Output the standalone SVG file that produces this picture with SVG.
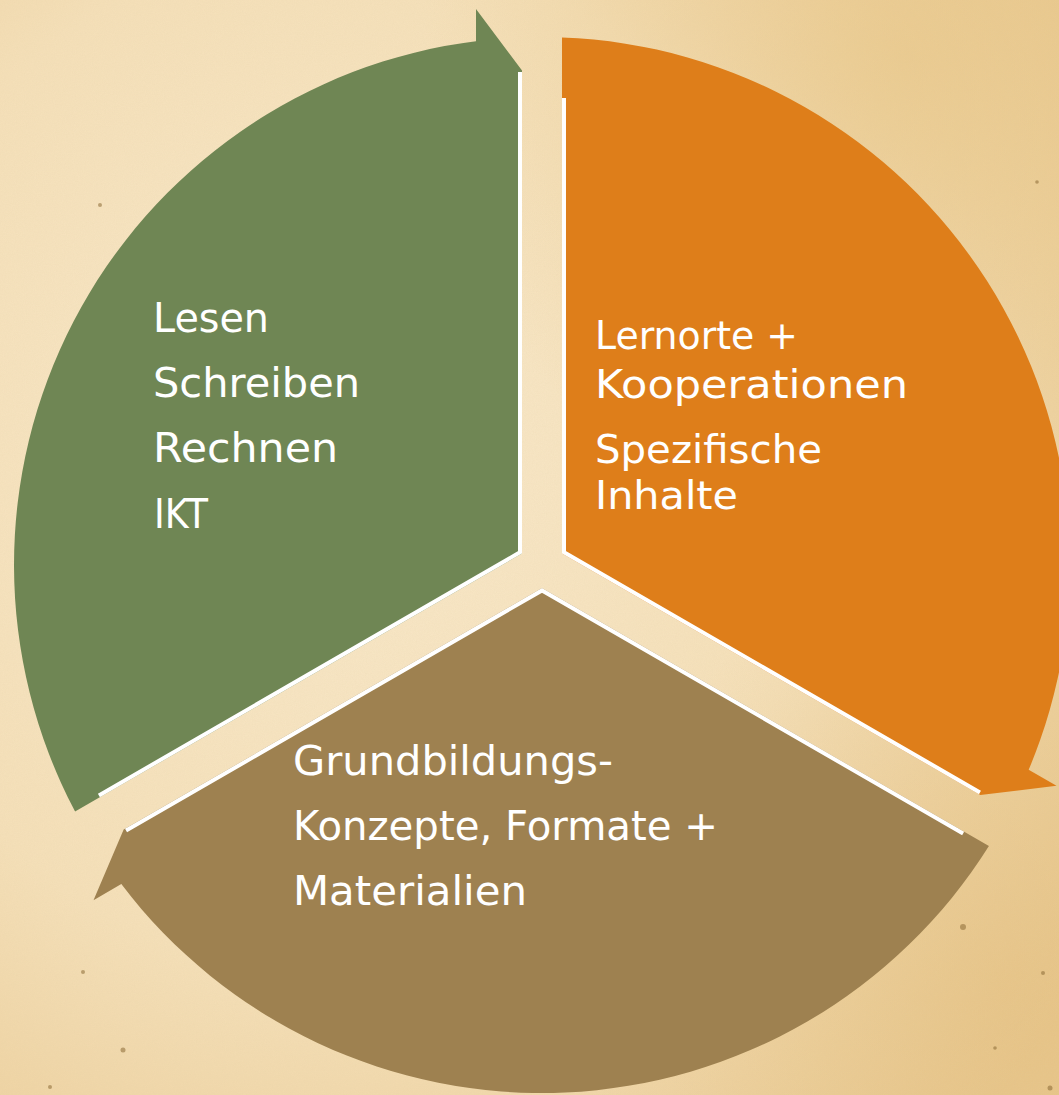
<svg xmlns="http://www.w3.org/2000/svg" width="1059" height="1095" viewBox="0 0 1059 1095">
  <defs>
    <radialGradient id="paper" cx="0.32" cy="0.42" r="0.85">
      <stop offset="0" stop-color="#F8E8CA"/>
      <stop offset="0.55" stop-color="#F4DFB8"/>
      <stop offset="1" stop-color="#E9C991"/>
    </radialGradient>
    <radialGradient id="tanTR" cx="0.85" cy="0.05" r="0.45">
      <stop offset="0" stop-color="#E6C27F" stop-opacity="0.55"/>
      <stop offset="1" stop-color="#E6C27F" stop-opacity="0"/>
    </radialGradient>
    <radialGradient id="tanBR" cx="0.95" cy="0.9" r="0.4">
      <stop offset="0" stop-color="#E2BC7A" stop-opacity="0.5"/>
      <stop offset="1" stop-color="#E2BC7A" stop-opacity="0"/>
    </radialGradient>
    <filter id="grain" x="0" y="0" width="100%" height="100%">
      <feTurbulence type="fractalNoise" baseFrequency="0.9" numOctaves="2" seed="4" result="n"/>
      <feColorMatrix in="n" type="matrix" values="0 0 0 0 0.75  0 0 0 0 0.6  0 0 0 0 0.35  0 0 0 0.35 -0.08"/>
    </filter>
    <path id="seg" d="M522,553.45 L75.08,811.49 A528,528 0 0 1 476,41.14 L476,9 L522,70.4 Z"/>
  </defs>
  <style>
    .edge { fill: none; stroke: #FFFFFF; stroke-width: 4; stroke-linejoin: miter; stroke-linecap: butt; }
    .label { font-family: "DejaVu Sans", "Liberation Sans", sans-serif; font-size: 41px; fill: #FFFFFF; }
    .small { font-size: 39px; }
    .speck { fill: #8A6A35; opacity: 0.55; }
  </style>

  <g id="background">
    <rect x="0" y="0" width="1059" height="1095" fill="url(#paper)"/>
    <rect x="0" y="0" width="1059" height="1095" fill="url(#tanTR)"/>
    <rect x="0" y="0" width="1059" height="1095" fill="url(#tanBR)"/>
    <rect x="0" y="0" width="1059" height="1095" filter="url(#grain)" opacity="0.6"/>
    <circle class="speck" cx="100" cy="205" r="2"/>
    <circle class="speck" cx="83" cy="972" r="2"/>
    <circle class="speck" cx="123" cy="1050" r="2.5"/>
    <circle class="speck" cx="50" cy="1087" r="2"/>
    <circle class="speck" cx="963" cy="927" r="3"/>
    <circle class="speck" cx="1043" cy="973" r="2"/>
    <circle class="speck" cx="1050" cy="1088" r="2.5"/>
    <circle class="speck" cx="995" cy="1048" r="1.8"/>
    <circle class="speck" cx="1037" cy="182" r="1.8"/>
  </g>

  <g id="node-grundbildung-basis">
    <use href="#seg" fill="#6F8654"/>
    <polyline class="edge" points="520,72 520,552.3 98.9,795.45"/>
    <text class="label" x="153" y="332" textLength="116" lengthAdjust="spacingAndGlyphs">Lesen</text>
    <text class="label" x="153" y="397" textLength="207" lengthAdjust="spacingAndGlyphs">Schreiben</text>
    <text class="label" x="153" y="462" textLength="185" lengthAdjust="spacingAndGlyphs">Rechnen</text>
    <text class="label" x="154" y="528" textLength="54" lengthAdjust="spacingAndGlyphs">IKT</text>
  </g>

  <g id="node-lernorte">
    <use href="#seg" fill="#DE7E1A" transform="rotate(120 542 565)"/>
    <polyline class="edge" points="520,72 520,552.3 126.6,779.45" transform="rotate(120 542 565)"/>
    <text class="label small" x="595" y="349" textLength="203" lengthAdjust="spacingAndGlyphs">Lernorte +</text>
    <text class="label small" x="595" y="398" textLength="313" lengthAdjust="spacingAndGlyphs">Kooperationen</text>
    <text class="label small" x="595" y="463" textLength="227" lengthAdjust="spacingAndGlyphs">Spezifische</text>
    <text class="label small" x="595" y="509" textLength="143" lengthAdjust="spacingAndGlyphs">Inhalte</text>
  </g>

  <g id="node-konzepte">
    <use href="#seg" fill="#9E8150" transform="rotate(240 542 565)"/>
    <polyline class="edge" points="520,72 520,552.3 98.9,795.45" transform="rotate(240 542 565)"/>
    <text class="label" x="293" y="775" textLength="320" lengthAdjust="spacingAndGlyphs">Grundbildungs-</text>
    <text class="label" x="293" y="840" textLength="425" lengthAdjust="spacingAndGlyphs">Konzepte, Formate +</text>
    <text class="label" x="293" y="905" textLength="234" lengthAdjust="spacingAndGlyphs">Materialien</text>
  </g>

  <g id="connectors"></g>
</svg>
